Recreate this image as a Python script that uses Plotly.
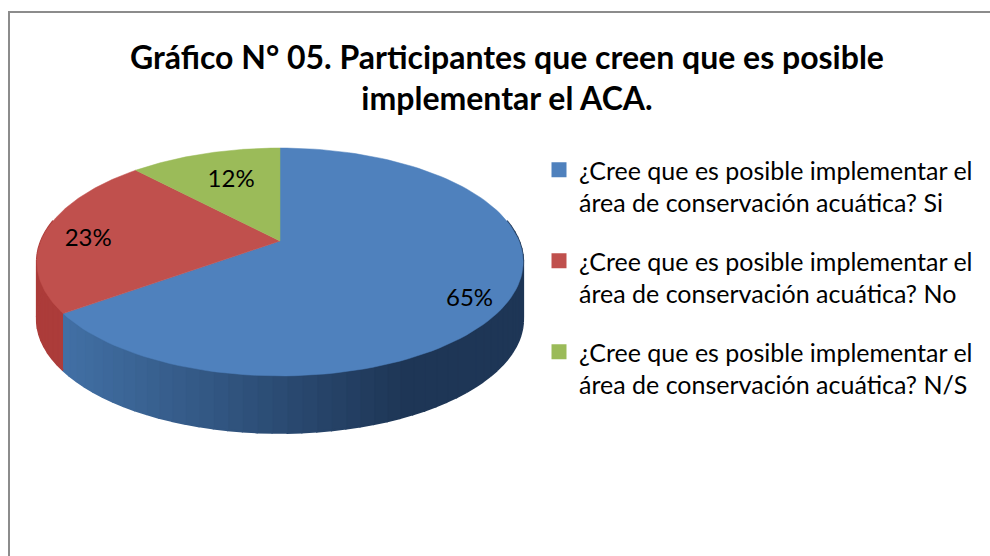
import numpy as np
import plotly.graph_objects as go

TITLE = "Gráfico N° 05. Participantes que creen que es posible<br>implementar el ACA."
CATEGORIES = [
    "¿Cree que es posible implementar el<br>área de conservación acuática? Si",
    "¿Cree que es posible implementar el<br>área de conservación acuática? No",
    "¿Cree que es posible implementar el<br>área de conservación acuática? N/S",
]
VALUES = [65, 23, 12]
LABELS = ["65%", "23%", "12%"]
COLORS = ["#4f81bd", "#c0504d", "#9bbb59"]

CX, CY, AX, AY, K, DEPTH = 280.0, 241.0, 239.0, 110.1, -0.184, 57.0
FONT = "Lato, Carlito, Calibri, sans-serif"
LABEL_SHIFT = [(7, 16), (-4, 7), (13, 12)]


def project(theta, r=1.0):
    u, v = r * np.sin(theta), -r * np.cos(theta)
    d = 1 + K * v
    return CX + AX * u / d, CY + AY * v / d


def mix(a, b, t):
    return "rgb(%d,%d,%d)" % tuple(a[i] + (b[i] - a[i]) * t for i in range(3))


fig = go.Figure()
fractions = np.cumsum([0] + VALUES) / sum(VALUES) * 2 * np.pi

# side wall: split into narrow strips so it can carry the shading
screen = np.linspace(np.pi / 2 - 0.19, 3 * np.pi / 2 + 0.19, 70)
for a0, a1 in zip(screen[:-1], screen[1:]):
    xa, ya = project(np.linspace(a0, a1, 4))
    mid = (a0 + a1) / 2
    x_mid = project(mid)[0]
    if mid < fractions[1]:
        t = float(np.clip((x_mid - 66) / 340, 0, 1))
        col = mix((66, 112, 165), (30, 54, 86), t)
    else:
        col = mix((176, 62, 60), (168, 58, 56), 0.5)
    fig.add_trace(go.Scatter(
        x=np.r_[xa, xa[::-1]], y=np.r_[ya, ya[::-1] + DEPTH],
        mode="lines", fill="toself", fillcolor=col,
        line=dict(color=col, width=2), showlegend=False, hoverinfo="skip"))

# top faces
for i, name in enumerate(CATEGORIES):
    xa, ya = project(np.linspace(fractions[i], fractions[i + 1], 120))
    fig.add_trace(go.Scatter(
        x=np.r_[CX, xa, CX], y=np.r_[CY, ya, CY],
        mode="lines", fill="toself", fillcolor=COLORS[i],
        line=dict(color=COLORS[i], width=0.5), legendgroup=str(i),
        showlegend=False, hoverinfo="skip"))

# percentage labels
mids = (fractions[:-1] + fractions[1:]) / 2
lx, ly = project(mids, 0.8)
fig.add_trace(go.Scatter(
    x=lx + np.array([s[0] for s in LABEL_SHIFT]),
    y=ly + np.array([s[1] for s in LABEL_SHIFT]),
    mode="text", text=LABELS, textposition="middle center",
    textfont=dict(family=FONT, size=24, color="#000000"),
    showlegend=False, hoverinfo="skip"))

# legend entries
for i, name in enumerate(CATEGORIES):
    fig.add_trace(go.Scatter(
        x=[None], y=[None], mode="markers", name=name, legendgroup=str(i),
        marker=dict(symbol="square", size=15, color=COLORS[i])))

fig.update_layout(
    width=990, height=556, margin=dict(l=0, r=0, t=0, b=0),
    paper_bgcolor="white", plot_bgcolor="white",
    title=dict(text=TITLE, x=507 / 990, xanchor="center", y=1 - 68.5 / 556, yanchor="middle",
               font=dict(family=FONT, size=32, color="#000000", weight="bold")),
    xaxis=dict(range=[0, 990], visible=False, fixedrange=True),
    yaxis=dict(range=[556, 0], visible=False, fixedrange=True),
    legend=dict(x=539 / 990, y=1 - 147 / 556, xanchor="left", yanchor="top",
                font=dict(family=FONT, size=25, color="#000000"),
                bgcolor="rgba(0,0,0,0)", tracegroupgap=23, itemwidth=30,
                traceorder="grouped", valign="top"),
    shapes=[dict(type="path", xref="x", yref="y",
                 path="M 9 556 L 9 12 L 990 12",
                 line=dict(color="#8c8c8c", width=2))],
)
fig.write_html("out.html", config=dict(displayModeBar=False),
               post_script="document.body.style.margin='0';")
